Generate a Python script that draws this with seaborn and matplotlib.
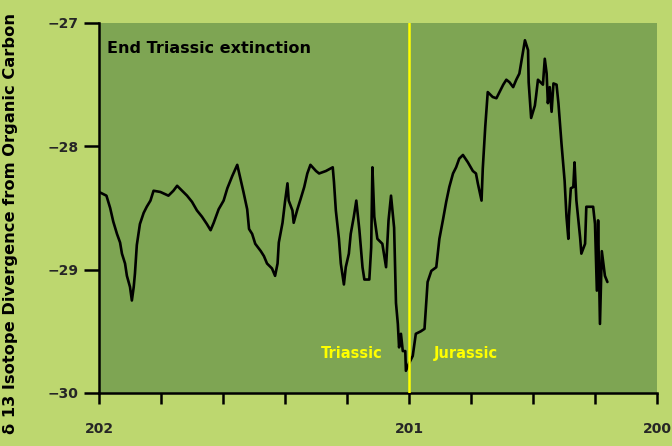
import numpy as np
import pandas as pd
import matplotlib
matplotlib.use("Agg")
import matplotlib.pyplot as plt
import seaborn as sns

# Axis positions (ticks evenly spaced; 202 at 0, 201 at 5, 200 at 9)
time_pos = [0.00, 0.12, 0.18, 0.23, 0.29, 0.34, 0.37, 0.42, 0.45, 0.50,
            0.53, 0.56, 0.58, 0.61, 0.66, 0.72, 0.77, 0.83, 0.88, 0.99,
            1.12, 1.20, 1.26, 1.34, 1.42, 1.50, 1.58, 1.66, 1.74, 1.80,
            1.85, 1.93, 2.01, 2.07, 2.15, 2.23, 2.28, 2.33, 2.39, 2.42,
            2.47, 2.52, 2.61, 2.66, 2.71, 2.79, 2.84, 2.88, 2.90, 2.96,
            3.00, 3.04, 3.06, 3.12, 3.14, 3.20, 3.25, 3.31, 3.36, 3.41,
            3.50, 3.55, 3.66, 3.77, 3.79, 3.82, 3.87, 3.90, 3.95, 3.98,
            4.03, 4.06, 4.11, 4.15, 4.20, 4.25, 4.28, 4.36, 4.39, 4.41,
            4.44, 4.49, 4.57, 4.63, 4.67, 4.71, 4.76, 4.79, 4.82, 4.84,
            4.87, 4.90, 4.94, 4.95, 5.00, 5.06, 5.11, 5.19, 5.25, 5.27,
            5.30, 5.36, 5.44, 5.49, 5.55, 5.60, 5.65, 5.71, 5.76, 5.81,
            5.87, 5.95, 6.03, 6.08, 6.11, 6.17, 6.19, 6.23, 6.27, 6.35,
            6.41, 6.46, 6.52, 6.57, 6.62, 6.68, 6.73, 6.78, 6.84, 6.87,
            6.92, 6.93, 6.97, 7.03, 7.05, 7.08, 7.16, 7.19, 7.22, 7.24,
            7.27, 7.30, 7.33, 7.38, 7.41, 7.46, 7.51, 7.54, 7.57, 7.58,
            7.61, 7.65, 7.67, 7.70, 7.76, 7.78, 7.84, 7.86, 7.97, 8.00,
            8.03, 8.05, 8.08, 8.11, 8.16, 8.20]

d13c = [-28.37, -28.40, -28.50, -28.61, -28.71, -28.78, -28.87, -28.95, -29.05, -29.14,
        -29.25, -29.14, -29.03, -28.80, -28.63, -28.54, -28.49, -28.44, -28.36, -28.37,
        -28.40, -28.36, -28.32, -28.36, -28.40, -28.45, -28.52, -28.57, -28.63, -28.68,
        -28.62, -28.51, -28.44, -28.34, -28.24, -28.15, -28.26, -28.37, -28.51, -28.67,
        -28.71, -28.79, -28.85, -28.89, -28.95, -28.99, -29.05, -28.95, -28.78, -28.62,
        -28.45, -28.30, -28.44, -28.52, -28.62, -28.51, -28.43, -28.33, -28.22, -28.15,
        -28.20, -28.22, -28.20, -28.17, -28.29, -28.52, -28.75, -28.95, -29.12, -28.98,
        -28.87, -28.71, -28.57, -28.44, -28.68, -28.98, -29.08, -29.08, -28.82, -28.17,
        -28.57, -28.75, -28.79, -28.98, -28.60, -28.40, -28.66, -29.27, -29.44, -29.63,
        -29.52, -29.66, -29.66, -29.82, -29.76, -29.70, -29.52, -29.50, -29.48, -29.33,
        -29.10, -29.01, -28.98, -28.75, -28.59, -28.45, -28.33, -28.22, -28.17, -28.10,
        -28.07, -28.13, -28.20, -28.22, -28.30, -28.44, -28.18, -27.84, -27.56, -27.60,
        -27.61, -27.56, -27.50, -27.46, -27.48, -27.52, -27.46, -27.41, -27.23, -27.14,
        -27.22, -27.48, -27.77, -27.67, -27.59, -27.46, -27.50, -27.29, -27.41, -27.65,
        -27.52, -27.72, -27.49, -27.50, -27.65, -27.98, -28.28, -28.57, -28.75, -28.57,
        -28.34, -28.33, -28.13, -28.44, -28.74, -28.87, -28.79, -28.49, -28.49, -28.63,
        -29.17, -28.60, -29.44, -28.85, -29.05, -29.10]

x_ticks = [0, 1, 2, 3, 4, 5, 6, 7, 8, 9]
x_tick_labels = ["202", "", "", "", "", "201", "", "", "", "200"]
y_ticks = [-27, -28, -29, -30]
y_tick_labels = ["\u221227", "\u221228", "\u221229", "\u221230"]
boundary_pos = 5

OUTER = "#bdd76f"
INNER = "#7ea553"
YELLOW = "#ffff00"

sns.set_theme(style="ticks")
plt.rcParams["font.family"] = ["DejaVu Sans"]

df = pd.DataFrame({"pos": time_pos, "d13c": d13c})

fig = plt.figure(figsize=(6.72, 4.46), dpi=100, facecolor=OUTER)
ax = fig.add_axes([99 / 672, 1 - 393 / 446, 558 / 672, 370 / 446])
ax.set_facecolor(INNER)

sns.lineplot(data=df, x="pos", y="d13c", sort=False, estimator=None,
             color="black", linewidth=1.9, ax=ax, zorder=3)
ax.axvline(boundary_pos, color=YELLOW, linewidth=1.8, zorder=4)

ax.set_xlim(0, 9)
ax.set_ylim(-30, -27)
ax.set_xticks(x_ticks)
ax.set_xticklabels(x_tick_labels, fontsize=10, fontweight="bold")
ax.set_yticks(y_ticks)
ax.set_yticklabels(y_tick_labels, fontsize=10, fontweight="bold")
ax.tick_params(axis="x", length=8, width=1.8, color="black", pad=13)
ax.tick_params(axis="y", length=11, width=1.8, color="black", pad=4)
ax.set_xlabel("")
ax.set_ylabel("")

for s in ["top", "right"]:
    ax.spines[s].set_visible(False)
for s in ["left", "bottom"]:
    ax.spines[s].set_color("black")
    ax.spines[s].set_linewidth(1.8)

ax.text(0.015, 0.93, "End Triassic extinction", transform=ax.transAxes,
        fontsize=11.5, fontweight="bold", color="black", ha="left", va="center")
ax.text(boundary_pos - 0.42, -29.68, "Triassic", fontsize=10.5, fontweight="bold",
        color=YELLOW, ha="right", va="center")
ax.text(boundary_pos + 0.40, -29.68, "Jurassic", fontsize=10.5, fontweight="bold",
        color=YELLOW, ha="left", va="center")

fig.text(0.016, 0.5, "\u03b4 13 Isotope Divergence from Organic Carbon",
         rotation=90, fontsize=11.7, fontweight="bold", ha="center", va="center",
         color="black")

fig.savefig("out.png", dpi=100, facecolor=OUTER)
